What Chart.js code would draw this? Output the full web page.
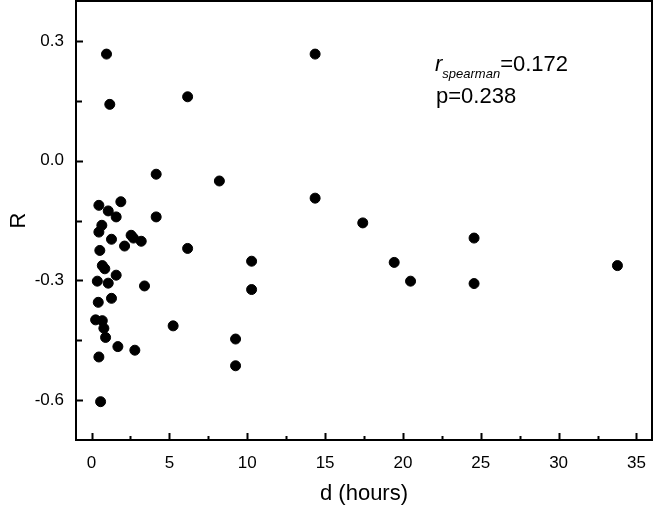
<!DOCTYPE html>
<html>
<head>
<meta charset="utf-8">
<script src="https://cdn.jsdelivr.net/npm/chart.js@4"></script>
<style>
  html, body { margin: 0; padding: 0; background: #fff; }
  #wrap { width: 668px; height: 507px; }
</style>
</head>
<body>
<div id="wrap"><canvas id="chart" width="668" height="507"></canvas></div>
<script>
// d (hours) vs R
const hours = [
  0.96, 1.17, 6.17, 14.36, 4.15, 8.21, 14.36, 4.15, 17.42, 24.57,
  3.19, 6.17, 10.28, 19.44, 33.78, 20.49, 24.57, 3.40, 10.28, 5.24,
  9.25, 9.25, 0.47, 1.88, 1.07, 1.58, 0.66, 0.47, 1.28, 2.54,
  2.69, 2.12, 0.53, 0.69, 0.85, 1.58, 0.37, 1.07, 1.28, 0.43,
  0.26, 0.69, 0.79, 0.90, 1.69, 2.78, 0.47, 0.58
];
const rValues = [
  0.267, 0.141, 0.160, 0.267, -0.034, -0.051, -0.094, -0.141, -0.156, -0.194,
  -0.202, -0.220, -0.252, -0.255, -0.263, -0.302, -0.308, -0.314, -0.323, -0.414,
  -0.447, -0.514, -0.112, -0.103, -0.126, -0.141, -0.162, -0.179, -0.197, -0.187,
  -0.194, -0.214, -0.225, -0.263, -0.271, -0.287, -0.302, -0.307, -0.345, -0.355,
  -0.399, -0.401, -0.420, -0.443, -0.466, -0.475, -0.492, -0.604
];
const xTicks = [0, 5, 10, 15, 20, 25, 30, 35];
const xMinorTicks = [2.5, 7.5, 12.5, 17.5, 22.5, 27.5, 32.5];
const yTicks = [-0.6, -0.3, 0.0, 0.3];
const yMinorTicks = [-0.45, -0.15, 0.15];

const points = hours.map((h, i) => ({ x: h, y: rValues[i] }));
const FONT = 'Arial, "Liberation Sans", sans-serif';

// frame + inward ticks + the spearman note
const framePlugin = {
  id: 'frame',
  afterDraw(c) {
    const ctx = c.ctx;
    const a = c.chartArea;
    const xs = c.scales.x, ys = c.scales.y;
    ctx.save();
    ctx.strokeStyle = '#000';
    ctx.lineWidth = 2;
    ctx.strokeRect(a.left, a.top, a.right - a.left, a.bottom - a.top);

    ctx.beginPath();
    xTicks.forEach(v => {
      const px = Math.round(xs.getPixelForValue(v)) + 0.5;
      ctx.moveTo(px, a.bottom); ctx.lineTo(px, a.bottom - 7);
    });
    xMinorTicks.forEach(v => {
      const px = Math.round(xs.getPixelForValue(v)) + 0.5;
      ctx.moveTo(px, a.bottom); ctx.lineTo(px, a.bottom - 4);
    });
    yTicks.forEach(v => {
      const py = Math.round(ys.getPixelForValue(v)) + 0.5;
      ctx.moveTo(a.left, py); ctx.lineTo(a.left + 7, py);
    });
    yMinorTicks.forEach(v => {
      const py = Math.round(ys.getPixelForValue(v)) + 0.5;
      ctx.moveTo(a.left, py); ctx.lineTo(a.left + 6, py);
    });
    ctx.lineWidth = 2;
    ctx.stroke();

    // annotation
    ctx.fillStyle = '#000';
    ctx.textBaseline = 'alphabetic';
    ctx.textAlign = 'left';
    let x = 435;
    ctx.font = 'italic 22px ' + FONT;
    ctx.fillText('r', x, 71);
    x += ctx.measureText('r').width;
    ctx.font = 'italic 13px ' + FONT;
    ctx.fillText('spearman', x, 78);
    x += ctx.measureText('spearman').width;
    ctx.font = '22px ' + FONT;
    ctx.fillText('=0.172', x, 71);
    ctx.fillText('p=0.238', 436, 103);
    ctx.restore();
  }
};

new Chart(document.getElementById('chart'), {
  type: 'scatter',
  data: {
    datasets: [{
      data: points,
      backgroundColor: '#000',
      borderColor: '#000',
      borderWidth: 1,
      pointRadius: 5,
      pointHoverRadius: 5
    }]
  },
  options: {
    responsive: false,
    animation: false,
    layout: { autoPadding: false, padding: { top: 1, right: 16, left: 0, bottom: 0 } },
    plugins: {
      legend: { display: false },
      tooltip: { enabled: false }
    },
    scales: {
      x: {
        type: 'linear',
        min: -1,
        max: 36,
        afterBuildTicks: s => { s.ticks = xTicks.map(v => ({ value: v })); },
        afterFit: s => { s.height = 67; s.paddingLeft = 0; s.paddingRight = 0; },
        grid: { display: false, drawTicks: false },
        border: { display: false },
        ticks: {
          color: '#000',
          padding: 13,
          font: { family: FONT, size: 17 },
          callback: v => String(v)
        },
        title: {
          display: true,
          text: 'd (hours)',
          color: '#000',
          font: { family: FONT, size: 22 },
          padding: { top: 0, bottom: 0 }
        }
      },
      y: {
        type: 'linear',
        min: -0.7,
        max: 0.4,
        afterBuildTicks: s => { s.ticks = yTicks.map(v => ({ value: v })); },
        afterFit: s => { s.width = 76; s.paddingTop = 0; s.paddingBottom = 0; },
        grid: { display: false, drawTicks: false },
        border: { display: false },
        ticks: {
          color: '#000',
          padding: 12,
          font: { family: FONT, size: 17 },
          callback: v => v.toFixed(1)
        },
        title: {
          display: true,
          text: 'R',
          color: '#000',
          font: { family: FONT, size: 22 },
          padding: { top: 6, bottom: 0 }
        }
      }
    }
  },
  plugins: [framePlugin]
});
</script>
</body>
</html>
